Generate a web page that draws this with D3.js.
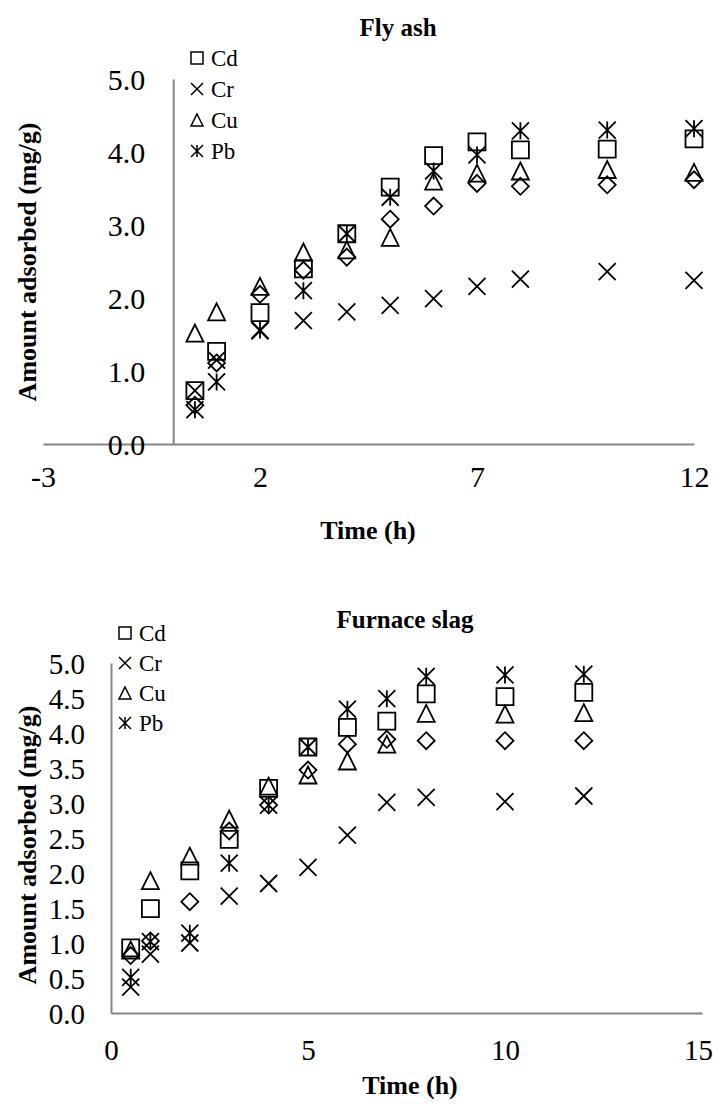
<!DOCTYPE html>
<html><head><meta charset="utf-8">
<script src="https://cdn.jsdelivr.net/npm/d3@7"></script>
<style>
html,body{margin:0;padding:0;background:#fff;}
svg text{font-family:"Liberation Serif","Times New Roman",serif;fill:#000;}
</style></head>
<body>
<svg id="c" width="713" height="1104"></svg>
<script>
// ---- data ----
const seriesNames = ["Cd","Cr","Cu","Pb","Zn"];
const legendNames = ["Cd","Cr","Cu","Pb"];
const markerTypes = ["square","times","triangle","star","diamond"];

const flyTime = [0.5,1,2,3,4,5,6,7,8,10,12];
const flyCd = [0.73,1.27,1.80,2.40,2.88,3.52,3.95,4.14,4.03,4.04,4.18];
const flyCr = [0.73,1.15,1.55,1.69,1.81,1.90,1.99,2.16,2.26,2.36,2.24];
const flyCu = [1.52,1.81,2.16,2.63,2.66,2.83,3.60,3.71,3.74,3.76,3.72];
const flyPb = [0.47,0.85,1.56,2.10,2.88,3.38,3.74,3.96,4.29,4.30,4.32];
const flyZn = [0.53,1.11,2.05,2.38,2.56,3.08,3.26,3.57,3.53,3.55,3.62];

const slagTime = [0.5,1,2,3,4,5,6,7,8,10,12];
const slagCd = [0.93,1.49,2.03,2.48,3.21,3.80,4.08,4.17,4.56,4.52,4.58];
const slagCr = [0.37,0.84,1.00,1.67,1.85,2.08,2.54,3.01,3.08,3.02,3.10];
const slagCu = [0.90,1.89,2.24,2.77,3.24,3.40,3.60,3.84,4.28,4.27,4.29];
const slagPb = [0.51,1.02,1.14,2.14,2.97,3.80,4.34,4.49,4.81,4.83,4.84];
const slagZn = [0.82,1.03,1.59,2.60,2.97,3.47,3.84,3.91,3.89,3.89,3.89];

const flyXTicks = [-3,2,7,12];
const flyYTicks = [0,1,2,3,4,5];
const slagXTicks = [0,5,10,15];
const slagYTicks = [0,0.5,1,1.5,2,2.5,3,3.5,4,4.5,5];

// ---- drawing ----
const FONT = '"Liberation Serif","Times New Roman",serif';
const svg = d3.select("#c");
const axisColor = "#868686";

function markerPath(type,h){
  switch(type){
    case "square": return `M${-h},${-h}H${h}V${h}H${-h}Z`;
    case "times": return `M${-h},${-h}L${h},${h}M${-h},${h}L${h},${-h}`;
    case "triangle": return `M0,${-h}L${h},${h}L${-h},${h}Z`;
    case "diamond": return `M0,${-h}L${h},0L0,${h}L${-h},0Z`;
    case "star": return `M${-h},${-h}L${h},${h}M${-h},${h}L${h},${-h}M0,${-h}V${h}`;
  }
}

function drawChart(cfg){
  const g = svg.append("g");
  const x = d3.scaleLinear().domain(cfg.xDomain).range(cfg.xRange);
  const y = d3.scaleLinear().domain(cfg.yDomain).range(cfg.yRange);

  const xAxis = d3.axisBottom(x).tickValues(cfg.xTicks).tickSize(0).tickFormat(d => String(d));
  const gx = g.append("g").attr("transform",`translate(0,${y(0)})`).call(xAxis)
    .attr("font-family",FONT).attr("font-size",cfg.tickFont);
  gx.select(".domain").attr("stroke",axisColor).attr("stroke-width",2);
  gx.selectAll("text").attr("dy",null).attr("y",cfg.xLabelY - y(0))
    .attr("font-family",FONT).attr("font-size",cfg.tickFont);
  if (cfg.lastXShift) gx.selectAll(".tick:last-of-type text").attr("dx",cfg.lastXShift);

  const yAxis = d3.axisLeft(y).tickValues(cfg.yTicks).tickSize(0).tickFormat(d3.format(".1f"));
  const gy = g.append("g").attr("transform",`translate(${x(0)},0)`).call(yAxis)
    .attr("font-family",FONT).attr("font-size",cfg.tickFont);
  gy.select(".domain").attr("stroke",axisColor).attr("stroke-width",2);
  gy.selectAll("text").attr("x",-cfg.yLabelGap).attr("dy","0.35em")
    .attr("font-family",FONT).attr("font-size",cfg.tickFont);
  g.selectAll(".domain").raise();

  cfg.series.forEach((vals,i)=>{
    g.append("g").selectAll("path").data(vals).join("path")
      .attr("transform",(d,j)=>`translate(${x(cfg.time[j])},${y(d)})`)
      .attr("d",markerPath(markerTypes[i],8.5))
      .attr("fill","none").attr("stroke","#000").attr("stroke-width",1.8);
  });

  g.append("text").attr("x",cfg.titleX).attr("y",cfg.titleY).attr("text-anchor","middle")
    .attr("font-family",FONT).attr("font-weight","bold").attr("font-size",25).text(cfg.title);
  g.append("text").attr("x",cfg.xTitleX).attr("y",cfg.xTitleY).attr("text-anchor","middle")
    .attr("font-family",FONT).attr("font-weight","bold").attr("font-size",26).text("Time (h)");
  g.append("text").attr("transform",`translate(${cfg.yTitleX},${cfg.yTitleY}) rotate(-90)`)
    .attr("text-anchor","middle").attr("font-family",FONT).attr("font-weight","bold").attr("font-size",26)
    .text("Amount adsorbed (mg/g)");

  const lg = g.append("g").attr("transform",`translate(${cfg.legX},${cfg.legY})`);
  legendNames.forEach((n,i)=>{
    const row = lg.append("g").attr("transform",`translate(0,${i*cfg.legStep})`);
    row.append("path").attr("d",markerPath(markerTypes[i],6)).attr("fill","none")
      .attr("stroke","#000").attr("stroke-width",1.5);
    row.append("text").attr("x",14).attr("dy","0.35em").attr("font-family",FONT)
      .attr("font-size",23).text(n);
  });
}

drawChart({
  xDomain:[-3,12], xRange:[43,694], yDomain:[0,5], yRange:[444,79],
  xTicks:flyXTicks, yTicks:flyYTicks, tickFont:30, xLabelY:487, yLabelGap:28,
  time:flyTime, series:[flyCd,flyCr,flyCu,flyPb,flyZn],
  title:"Fly ash", titleX:398, titleY:36, xTitleX:368, xTitleY:539,
  yTitleX:36, yTitleY:262, legX:197, legY:58, legStep:31, lastXShift:0
});

drawChart({
  xDomain:[0,15], xRange:[111,702], yDomain:[0,5], yRange:[1013,663],
  xTicks:slagXTicks, yTicks:slagYTicks, tickFont:29, xLabelY:1060, yLabelGap:26,
  time:slagTime, series:[slagCd,slagCr,slagCu,slagPb,slagZn],
  title:"Furnace slag", titleX:405, titleY:628, xTitleX:410, xTitleY:1094,
  yTitleX:36, yTitleY:845, legX:125, legY:633, legStep:30, lastXShift:-4
});
</script>
</body></html>
